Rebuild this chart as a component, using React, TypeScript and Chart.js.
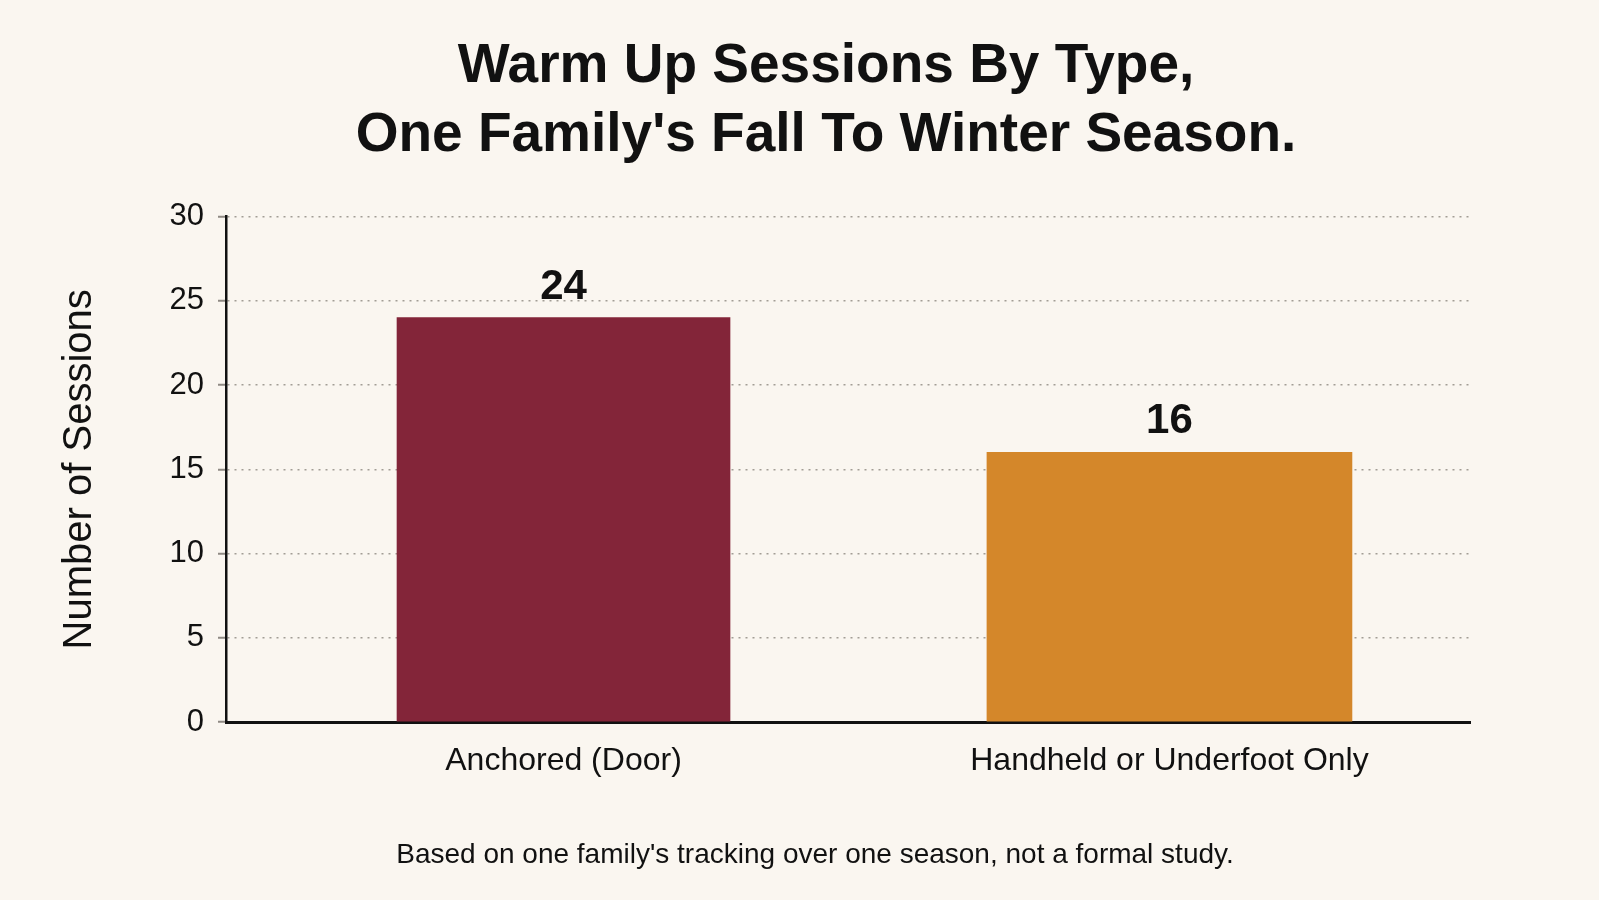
import React, { useEffect, useRef } from 'react';
import { Chart, registerables, type ChartOptions, type Plugin } from 'chart.js';

Chart.register(...registerables);

// Data
const categories = ['Anchored (Door)', 'Handheld or Underfoot Only'];
const sessions = [24, 16];
const yTicks = [0, 5, 10, 15, 20, 25, 30];

const titleLines = ['Warm Up Sessions By Type,', "One Family's Fall To Winter Season."];
const yTitle = 'Number of Sessions';
const footnote = "Based on one family's tracking over one season, not a formal study.";

// Styles
const barColors = ['#832539', '#d4872a'];
const barWidths = [333, 365];
const BG = '#faf6f0';
const SANS = "'Liberation Sans', Arial, sans-serif";

// value labels above each bar
const valueLabels: Plugin<'bar'> = {
  id: 'valueLabels',
  afterDatasetsDraw(chart) {
    const { ctx } = chart;
    ctx.save();
    ctx.font = `bold 42px ${SANS}`;
    ctx.fillStyle = '#111';
    ctx.textAlign = 'center';
    ctx.textBaseline = 'alphabetic';
    chart.data.datasets.forEach((ds, i) => {
      const meta = chart.getDatasetMeta(i);
      meta.data.forEach((el: any, j) => {
        const v = (ds.data[j] as any).y;
        ctx.fillText(String(v), el.x, el.y - 19);
      });
    });
    ctx.restore();
  },
};

const bgPlugin: Plugin<'bar'> = {
  id: 'bg',
  beforeDraw(chart) {
    const { ctx, width, height } = chart;
    ctx.save();
    ctx.fillStyle = BG;
    ctx.fillRect(0, 0, width, height);
    ctx.restore();
  },
};

// nudge the title block a bit to the right, the source centres it off the page centre
const titleShift: Plugin<'bar'> = {
  id: 'titleShift',
  afterLayout(chart) {
    const t = (chart as any).titleBlock;
    if (t) {
      t.left += 11;
      t.right += 11;
    }
  },
};

const buildOptions = (): ChartOptions<'bar'> => ({
  responsive: true,
  maintainAspectRatio: false,
  animation: false,
  layout: { padding: { left: 160, right: 129, top: 0, bottom: 0 } },
  plugins: {
    legend: { display: false },
    tooltip: { enabled: false },
    title: {
      display: true,
      text: titleLines,
      color: '#111',
      font: { family: SANS, size: 55, weight: 'bold', lineHeight: 1.26 },
      padding: { top: 32, bottom: 46 },
    },
    subtitle: {
      display: true,
      position: 'bottom',
      text: footnote,
      color: '#111',
      font: { family: SANS, size: 28, lineHeight: 1.2 },
      padding: { top: 46, bottom: 28 },
    },
  },
  scales: {
    x: {
      type: 'linear',
      min: -0.557,
      max: 1.496,
      offset: false,
      afterBuildTicks: (scale) => {
        scale.ticks = categories.map((_, i) => ({ value: i }));
      },
      grid: { display: false, offset: false },
      border: { display: true, color: '#111', width: 3 },
      ticks: {
        autoSkip: false,
        maxRotation: 0,
        padding: 12,
        color: '#111',
        font: { family: SANS, size: 32 },
        callback: (v) => categories[Math.round(Number(v))] ?? '',
      },
    },
    y: {
      min: yTicks[0],
      max: yTicks[yTicks.length - 1],
      afterFit: (scale) => {
        scale.width = 66;
      },
      afterBuildTicks: (scale) => {
        scale.ticks = yTicks.map((v) => ({ value: v }));
      },
      title: {
        display: true,
        text: yTitle,
        color: '#111',
        font: { family: SANS, size: 40, lineHeight: 1.2 },
        padding: { top: -104, bottom: 0 },
      },
      grid: {
        color: '#a29d95',
        lineWidth: 1.5,
        tickLength: 8,
        tickColor: '#8f8a84',
        tickWidth: 2,
        tickBorderDash: [],
      },
      border: { display: true, color: '#111', width: 2.5, dash: [2, 5] },
      ticks: {
        padding: 14,
        color: '#111',
        font: { family: SANS, size: 31 },
      },
    },
  },
});

const SessionsChart: React.FC = () => {
  const canvasRef = useRef<HTMLCanvasElement>(null);
  const chartRef = useRef<Chart<'bar'> | null>(null);

  useEffect(() => {
    if (!canvasRef.current) return;
    chartRef.current?.destroy();

    chartRef.current = new Chart(canvasRef.current, {
      type: 'bar',
      data: {
        datasets: categories.map((c, i) => ({
          label: c,
          data: [{ x: i, y: sessions[i] }] as any,
          backgroundColor: barColors[i],
          barThickness: barWidths[i],
          grouped: false,
          borderWidth: 0,
        })),
      },
      options: buildOptions(),
      plugins: [bgPlugin, titleShift, valueLabels],
    });

    return () => {
      chartRef.current?.destroy();
      chartRef.current = null;
    };
  }, []);

  return (
    <div style={{ position: 'fixed', left: 0, top: 0, width: 1599, height: 900, background: BG }}>
      <canvas ref={canvasRef} />
    </div>
  );
};

export default function App() {
  return <SessionsChart />;
}
